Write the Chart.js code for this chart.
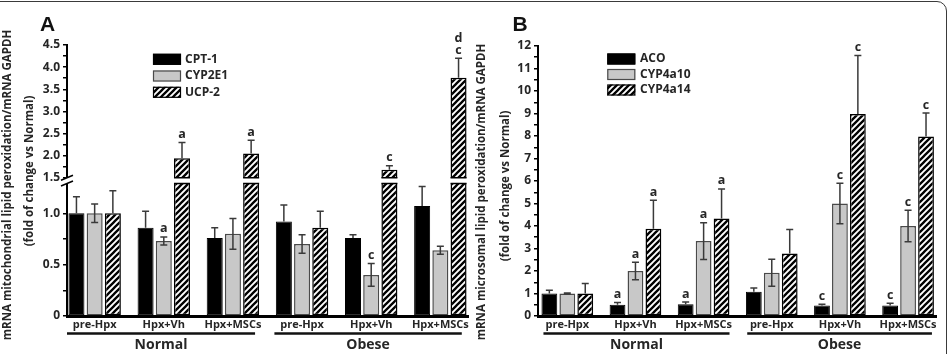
<!DOCTYPE html>
<html>
<head>
<meta charset="utf-8">
<script src="https://cdn.jsdelivr.net/npm/chart.js@4.4.1/dist/chart.umd.min.js"></script>
<style>
  html, body { margin: 0; padding: 0; background: #fff; overflow: hidden; }
  #frame { position: absolute; left: -12px; top: 1px; width: 959px; height: 420px;
           border: 1.5px solid #3a3a3a; border-radius: 10px; box-sizing: border-box; }
  #chartA { position: absolute; left: 0; top: 0; }
  #chartB { position: absolute; left: 474px; top: 0; }
</style>
</head>
<body>
<div id="frame"></div>
<canvas id="chartA" width="474" height="354"></canvas>
<canvas id="chartB" width="475" height="354"></canvas>
<script>
const groupLabels = ['pre-Hpx', 'Hpx+Vh', 'Hpx+MSCs', 'pre-Hpx', 'Hpx+Vh', 'Hpx+MSCs'];
const cohortLabels = ['Normal', 'Obese'];

// panel A - mitochondrial
const seriesA = ['CPT-1', 'CYP2E1', 'UCP-2'];
const cpt1 = [1.00, 0.86, 0.76, 0.92, 0.76, 1.07];
const cpt1Err = [0.16, 0.16, 0.10, 0.16, 0.03, 0.19];
const cyp2e1 = [1.00, 0.73, 0.80, 0.70, 0.40, 0.64];
const cyp2e1Err = [0.09, 0.04, 0.15, 0.09, 0.11, 0.04];
const ucp2 = [1.00, 1.94, 2.05, 0.86, 1.68, 3.76];
const ucp2Err = [0.22, 0.36, 0.30, 0.16, 0.09, 0.44];
const cpt1Sig = ['', '', '', '', '', ''];
const cyp2e1Sig = ['', 'a', '', '', 'c', ''];
const ucp2Sig = ['', 'a', 'a', '', 'c', 'cd'];   // letters stacked upwards
const yTicksA = [0, 0.25, 0.5, 0.75, 1, 1.5, 1.75, 2, 2.25, 2.5, 2.75, 3, 3.25, 3.5, 3.75, 4, 4.25, 4.5];

// panel B - microsomal
const seriesB = ['ACO', 'CYP4a10', 'CYP4a14'];
const aco = [1.00, 0.50, 0.52, 1.08, 0.47, 0.47];
const acoErr = [0.15, 0.10, 0.10, 0.17, 0.05, 0.10];
const cyp4a10 = [1.00, 2.00, 3.33, 1.92, 5.00, 4.00];
const cyp4a10Err = [0.02, 0.39, 0.82, 0.60, 0.90, 0.70];
const cyp4a14 = [1.00, 3.88, 4.33, 2.78, 8.98, 7.98];
const cyp4a14Err = [0.45, 1.26, 1.32, 1.07, 2.60, 1.04];
const acoSig = ['', 'a', 'a', '', 'c', 'c'];
const cyp4a10Sig = ['', 'a', 'a', '', 'c', 'c'];
const cyp4a14Sig = ['', 'a', 'a', '', 'c', 'c'];
const yTicksB = [];
for (let v = 0; v <= 12; v += 0.5) yTicksB.push(v);

const FONT = '"Open Sans"';
const TEXT = '#262626';

// y scale with a gap between 1.29 and 1.5 (value -> fraction of height)
const breakMapA = [[0, 0], [1.29, 0.489], [1.5, 0.51], [4.5, 1]];

function piece(map, v, from, to) {
    for (let i = 1; i < map.length; i++) {
        const a = map[i - 1], b = map[i];
        if (v <= b[from] || i === map.length - 1) {
            return a[to] + (v - a[from]) * (b[to] - a[to]) / (b[from] - a[from]);
        }
    }
}

class BrokenScale extends Chart.LinearScale {
    getPixelForValue(value) {
        if (value === null || value === undefined || isNaN(value)) return NaN;
        const f = piece(breakMapA, value, 0, 1);
        return this.bottom - f * (this.bottom - this.top);
    }
    getValueForPixel(pixel) {
        const f = (this.bottom - pixel) / (this.bottom - this.top);
        return piece(breakMapA, f, 1, 0);
    }
}
BrokenScale.id = 'broken';
Chart.register(BrokenScale);

function makeHatch() {
    const c = document.createElement('canvas');
    c.width = 6; c.height = 6;
    const g = c.getContext('2d');
    g.fillStyle = '#fff';
    g.fillRect(0, 0, 6, 6);
    g.strokeStyle = '#000';
    g.lineWidth = 2.3;
    g.beginPath();
    g.moveTo(-1, 7); g.lineTo(7, -1);
    g.moveTo(-4, 4); g.lineTo(4, -4);
    g.moveTo(2, 10); g.lineTo(10, 2);
    g.stroke();
    return g.createPattern(c, 'repeat');
}
const hatch = makeHatch();
const fills = ['#000', '#c8c8c8', hatch];
const borders = ['#000', '#4a4a4a', '#000'];
const borderW = [1, 1.5, 1.5];
const twoSided = [false, true, false];

function makeDecor(cfg) {
    return {
        id: 'decor',
        afterDatasetsDraw(chart) {
            const {ctx, chartArea: area, scales: {x, y}} = chart;
            ctx.save();
            if (cfg.breakAt) {
                const yTop = y.getPixelForValue(cfg.breakAt[1]);
                const yBot = y.getPixelForValue(cfg.breakAt[0]);
                ctx.fillStyle = '#fff';
                ctx.fillRect(area.left - 1.5, yTop, area.right - area.left + 1.5, yBot - yTop);
                ctx.strokeStyle = '#000';
                ctx.lineWidth = 1.5;
                cfg.values.forEach((vals, k) => {
                    chart.getDatasetMeta(k).data.forEach((bar, i) => {
                        if (vals[i] > cfg.breakAt[1]) {
                            const h = bar.width / 2;
                            ctx.beginPath();
                            ctx.moveTo(bar.x - h, yTop); ctx.lineTo(bar.x + h, yTop);
                            ctx.moveTo(bar.x - h, yBot); ctx.lineTo(bar.x + h, yBot);
                            ctx.stroke();
                        }
                    });
                });
                [yTop, yBot].forEach(py => {
                    ctx.beginPath();
                    ctx.moveTo(area.left - 6, py + 2.5);
                    ctx.lineTo(area.left + 6, py - 2.5);
                    ctx.stroke();
                });
            }
            // error bars + letters
            ctx.strokeStyle = '#3a3a3a';
            ctx.lineWidth = 1.5;
            ctx.fillStyle = TEXT;
            ctx.font = 'bold 12.5px ' + FONT;
            ctx.textAlign = 'center';
            ctx.textBaseline = 'middle';
            cfg.values.forEach((vals, k) => {
                chart.getDatasetMeta(k).data.forEach((bar, i) => {
                    const v = vals[i], e = cfg.errors[k][i];
                    const hi = y.getPixelForValue(v + e);
                    const lo = twoSided[k] ? y.getPixelForValue(v - e) : y.getPixelForValue(v);
                    ctx.beginPath();
                    ctx.moveTo(bar.x, lo); ctx.lineTo(bar.x, hi);
                    ctx.moveTo(bar.x - 3.5, hi); ctx.lineTo(bar.x + 3.5, hi);
                    if (twoSided[k]) { ctx.moveTo(bar.x - 3.5, lo); ctx.lineTo(bar.x + 3.5, lo); }
                    ctx.stroke();
                    const sig = cfg.sig[k][i];
                    for (let j = 0; j < sig.length; j++) {
                        ctx.fillText(sig[j], bar.x, hi - 8 - j * 11.5);
                    }
                });
            });
            ctx.restore();
        },
        afterDraw(chart) {
            const {ctx, scales: {x}} = chart;
            ctx.save();
            // Normal / Obese brackets
            ctx.strokeStyle = '#111';
            ctx.lineWidth = 2.5;
            ctx.fillStyle = TEXT;
            ctx.font = 'bold 14px ' + FONT;
            ctx.textAlign = 'center';
            ctx.textBaseline = 'middle';
            cfg.cohorts.forEach((r, i) => {
                const x0 = x.getPixelForValue(r[0]), x1 = x.getPixelForValue(r[1]);
                ctx.beginPath();
                ctx.moveTo(x0, 333.5); ctx.lineTo(x1, 333.5);
                ctx.stroke();
                ctx.fillText(cohortLabels[i], (x0 + x1) / 2, 345);
            });
            // legend
            ctx.font = 'bold 12px ' + FONT;
            ctx.textAlign = 'left';
            cfg.series.forEach((name, k) => {
                const cy = cfg.legend.ys[k];
                ctx.fillStyle = fills[k];
                ctx.fillRect(cfg.legend.x, cy - 5.5, 28, 11);
                ctx.strokeStyle = borders[k];
                ctx.lineWidth = 1.2;
                ctx.strokeRect(cfg.legend.x + 0.5, cy - 5, 27, 10);
                ctx.fillStyle = TEXT;
                ctx.fillText(name, cfg.legend.textX, cy);
            });
            // axis title (two lines, rotated)
            ctx.font = 'bold 11.5px ' + FONT;
            ctx.textAlign = 'center';
            cfg.titles.forEach(t => {
                ctx.save();
                ctx.translate(t.x, t.y);
                ctx.rotate(-Math.PI / 2);
                ctx.fillText(t.text, 0, 0);
                ctx.restore();
            });
            // panel letter
            ctx.font = 'bold 21px "Liberation Sans"';
            ctx.fillStyle = '#111';
            ctx.fillText(cfg.panel.text, cfg.panel.x, cfg.panel.y);
            ctx.restore();
        }
    };
}

function makePanel(cfg) {
    const ctx = document.getElementById(cfg.canvas).getContext('2d');
    return new Chart(ctx, {
        type: 'bar',
        data: {
            datasets: cfg.series.map((name, k) => ({
                label: name,
                data: cfg.values[k].map((v, i) => ({x: i, y: v})),
                backgroundColor: fills[k],
                borderColor: borders[k],
                borderWidth: borderW[k],
                borderSkipped: false,
                categoryPercentage: 0.79,
                barPercentage: 0.88
            }))
        },
        options: {
            responsive: false,
            animation: false,
            events: [],
            layout: {padding: {top: cfg.padTop, right: cfg.padRight, left: 0, bottom: 0}},
            plugins: {legend: {display: false}, tooltip: {enabled: false}},
            scales: {
                x: {
                    type: 'linear',
                    min: cfg.xMin,
                    max: cfg.xMax,
                    offset: false,
                    afterBuildTicks(scale) { scale.ticks = groupLabels.map((_, i) => ({value: i})); },
                    afterFit(scale) { scale.height = 38; },
                    ticks: {
                        callback(v) { return groupLabels[v]; },
                        color: TEXT,
                        font: {family: FONT, size: 11, weight: 'bold'},
                        padding: 2,
                        autoSkip: false,
                        maxRotation: 0
                    },
                    grid: {display: false, drawTicks: false},
                    border: {display: true, color: '#000', width: 3}
                },
                y: {
                    type: cfg.yType,
                    min: 0,
                    max: cfg.yMax,
                    afterBuildTicks(scale) { scale.ticks = cfg.yTicks.map(v => ({value: v})); },
                    afterFit(scale) { scale.width = cfg.yWidth; },
                    ticks: {
                        callback: cfg.yLabel,
                        color: TEXT,
                        font: {family: FONT, size: 12, weight: 'bold'},
                        padding: 3,
                        autoSkip: false
                    },
                    grid: {drawOnChartArea: false, drawTicks: true, tickLength: 4, color: '#000', lineWidth: 1.5},
                    border: {display: true, color: '#000', width: 2}
                }
            }
        },
        plugins: [makeDecor(cfg)]
    });
}

makePanel({
    canvas: 'chartA',
    series: seriesA,
    values: [cpt1, cyp2e1, ucp2],
    errors: [cpt1Err, cyp2e1Err, ucp2Err],
    sig: [cpt1Sig, cyp2e1Sig, ucp2Sig],
    yType: 'broken', yMax: 4.5, yTicks: yTicksA, yWidth: 67,
    yLabel(v) { return (v * 2) % 1 === 0 ? (v === 0 ? '0' : v.toFixed(1)) : ''; },
    padTop: 45, padRight: 6, xMin: -0.40, xMax: 5.40,
    breakAt: [1.29, 1.5],
    cohorts: [[-0.40, 2.32], [2.60, 5.31]],
    legend: {x: 153, ys: [59.3, 76, 92.3], textX: 185},
    titles: [
        {text: 'mRNA mitochondrial lipid peroxidation/mRNA GAPDH', x: 8, y: 185},
        {text: '(fold of change vs Normal)', x: 30, y: 171}
    ],
    panel: {text: 'A', x: 47.5, y: 25.5}
});

makePanel({
    canvas: 'chartB',
    series: seriesB,
    values: [aco, cyp4a10, cyp4a14],
    errors: [acoErr, cyp4a10Err, cyp4a14Err],
    sig: [acoSig, cyp4a10Sig, cyp4a14Sig],
    yType: 'linear', yMax: 12, yTicks: yTicksB, yWidth: 64,
    yLabel(v) { return Number.isInteger(v) ? String(v) : ''; },
    padTop: 46, padRight: 12.3, xMin: -0.43, xMax: 5.42,
    breakAt: null,
    cohorts: [[-0.35, 2.38], [2.64, 5.35]],
    legend: {x: 133.3, ys: [59, 74.5, 90], textX: 166},
    titles: [
        {text: 'mRNA microsomal lipid peroxidation/mRNA GAPDH', x: 8, y: 192},
        {text: '(fold of change vs Normal)', x: 32, y: 186}
    ],
    panel: {text: 'B', x: 46, y: 25}
});
</script>
</body>
</html>
